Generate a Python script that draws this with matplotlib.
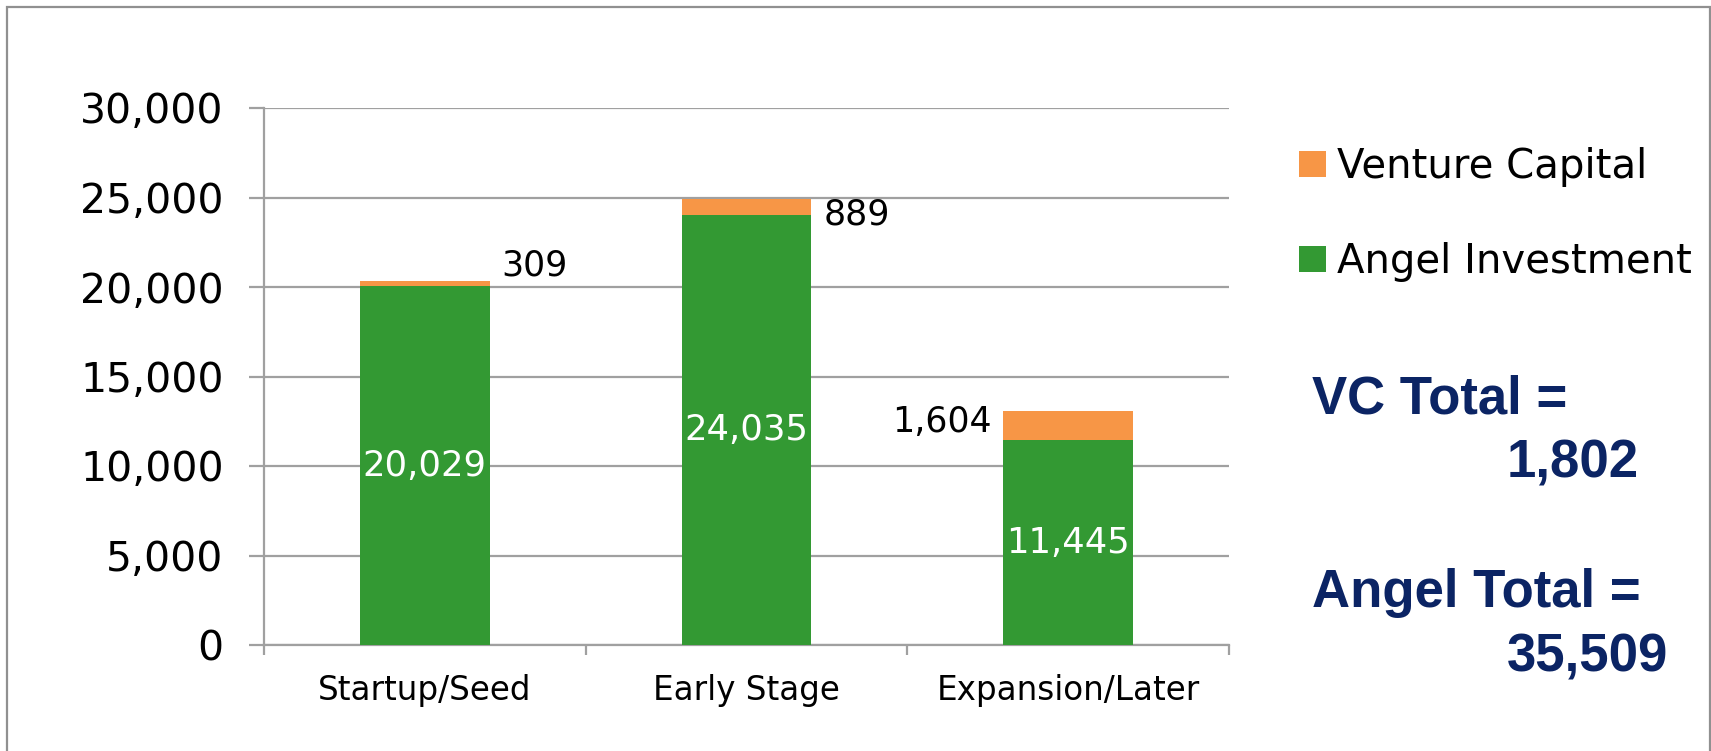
import numpy as np
import matplotlib.pyplot as plt
from matplotlib.patches import Rectangle

# data
stages = ["Startup/Seed", "Early Stage", "Expansion/Later"]
angel = [20029, 24035, 11445]
venture = [309, 889, 1604]
vc_total = "1,802"
angel_total = "35,509"

green = "#339933"
orange = "#F79646"
grey = "#A0A0A0"
navy = "#0B2464"

W, H = 1711, 751
fig = plt.figure(figsize=(W / 100, H / 100), dpi=100)
ax = fig.add_axes([264 / W, 1 - 645 / H, (1229 - 264) / W, (645 - 108) / H])

x = np.arange(len(stages))
width = 0.404
b1 = ax.bar(x, angel, width, color=green, label="Angel Investment", zorder=3)
b2 = ax.bar(x, venture, width, bottom=angel, color=orange, label="Venture Capital", zorder=3)

ax.set_xlim(-0.5, len(stages) - 0.5)
ax.set_ylim(0, 30000)
ax.set_yticks(np.arange(0, 30001, 5000))
ax.set_yticklabels([f"{v:,}" for v in range(0, 30001, 5000)])
ax.set_xticks(x)
ax.set_xticklabels(stages)
ax.set_xticks(np.arange(-0.5, len(stages)), minor=True)

ax.grid(axis="y", color=grey, linewidth=1.6, zorder=0)
for s in ["top", "right"]:
    ax.spines[s].set_visible(False)
for s in ["left", "bottom"]:
    ax.spines[s].set_color(grey)
    ax.spines[s].set_linewidth(1.6)
ax.tick_params(axis="y", length=11, width=1.6, color=grey, pad=18, labelsize=29.5)
ax.tick_params(axis="x", which="major", length=0, pad=21, labelsize=23.5)
ax.tick_params(axis="x", which="minor", length=7.5, width=1.6, color=grey)

# labels inside the green bars
for xi, a in zip(x, angel):
    ax.text(xi, a / 2, f"{a:,}", ha="center", va="center", color="white", fontsize=25.5, zorder=4)

# venture capital labels, placed by hand like the original
vc_offsets = [(12, 15, "left"), (12, -16, "left"), (-11, 4, "right")]
for xi, a, v, (dx, dy, ha) in zip(x, angel, venture, vc_offsets):
    if ha == "left":
        ax.annotate(f"{v:,}", (xi + width / 2, a + v), xytext=(dx, dy), textcoords="offset pixels",
                    ha="left", va="center", fontsize=25)
    else:
        ax.annotate(f"{v:,}", (xi - width / 2, a + v / 2), xytext=(dx, dy), textcoords="offset pixels",
                    ha="right", va="center", fontsize=25)

handles = [b2, b1]
fig.legend(handles, [h.get_label() for h in handles], loc="upper left",
           bbox_to_anchor=(1299 / W, 1 - 147 / H), frameon=False, fontsize=29,
           handlelength=0.68, handleheight=0.62, handletextpad=0.27,
           labelspacing=1.36, borderpad=0, borderaxespad=0)

tkw = dict(color=navy, fontsize=38, fontweight="bold", family="Liberation Sans", va="baseline")
fig.text(1312 / W, 1 - 414 / H, "VC Total =", **tkw)
fig.text(1507 / W, 1 - 478 / H, vc_total, **tkw)
fig.text(1312 / W, 1 - 607 / H, "Angel Total =", **tkw)
fig.text(1507 / W, 1 - 671 / H, angel_total, **tkw)

# outer frame of the slide graphic
fig.patches.append(Rectangle((7 / W, -0.05), (1709.5 - 7) / W, 1.05 - 7 / H,
                             transform=fig.transFigure, fill=False, edgecolor="#909090", linewidth=1.6))

fig.savefig("out.png", dpi=100)
